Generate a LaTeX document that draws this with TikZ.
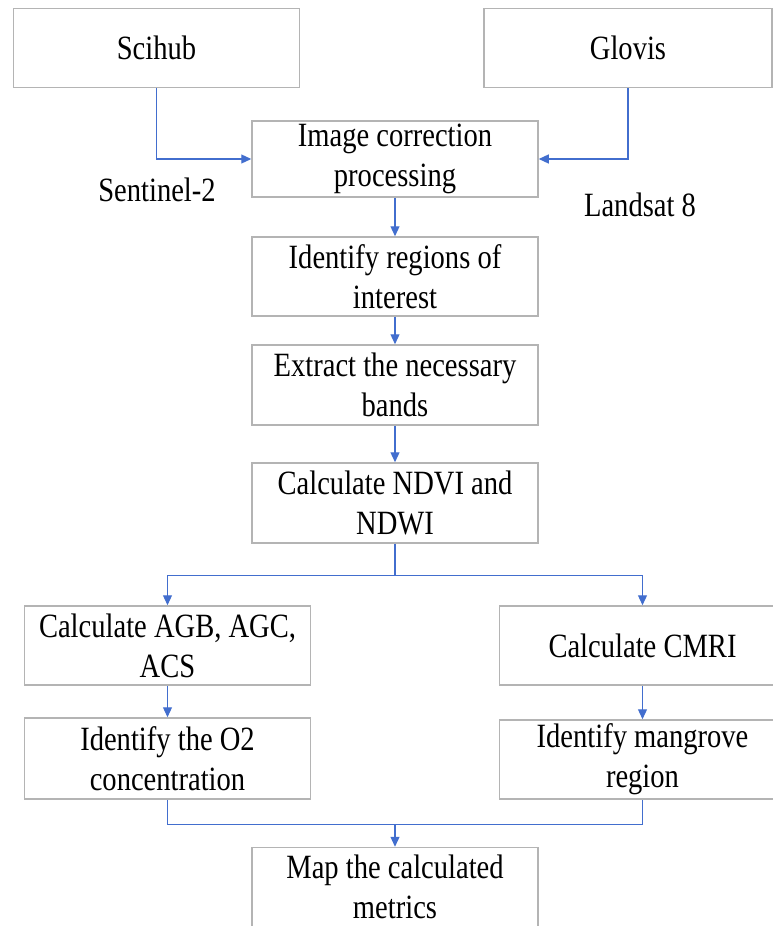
\documentclass[tikz,border=0pt]{standalone}
\usepackage{fontspec}
\setmainfont{Liberation Serif}[FakeStretch=0.84]
\usepackage{tikz}
\usetikzlibrary{arrows.meta}

\begin{document}
\begin{tikzpicture}[x=1pt,y=-1pt,
  box/.style={draw=boxGray,line width=1.5pt,minimum width=286pt,minimum height=79pt,align=center,inner sep=0pt,font=\fontsize{34}{40}\selectfont},
  flow/.style={color=flowBlue,line width=1.2pt,>={Triangle[length=10pt,width=9pt]}},
  tag/.style={font=\fontsize{34}{40}\selectfont}]
\definecolor{boxGray}{RGB}{180,180,180}
\definecolor{flowBlue}{RGB}{66,110,206}
\useasboundingbox (0,0) rectangle (773,926);
\node[box] (scihub) at (156.5,48) {Scihub};
\node[box,minimum width=288pt] (glovis) at (628,48) {Glovis};
\node[box,minimum height=76pt] (imgcorr) at (395,159) {Image correction\\processing};
\node[tag] (sentinel) at (157,190) {Sentinel-2};
\node[tag] (landsat) at (640,205) {Landsat 8};
\node[box] (roi) at (395,276.5) {Identify regions of\\interest};
\node[box,minimum height=80pt] (bands) at (395,385) {Extract the necessary\\bands};
\node[box,minimum height=80pt] (ndvi) at (395,503) {Calculate NDVI and\\NDWI};
\node[box] (agb) at (167.5,645.5) {Calculate AGB, AGC,\\ACS};
\node[box] (cmri) at (642.5,645.5) {Calculate CMRI};
\node[box,minimum height=81pt] (oxygen) at (167.5,758.5) {Identify the O2\\concentration};
\node[box] (mangrove) at (642.5,759.5) {Identify mangrove\\region};
\node[box] (metrics) at (395,887) {Map the calculated\\metrics};
\draw[flow,->] (scihub.south) |- (imgcorr.west);
\draw[flow,->] (glovis.south) |- (imgcorr.east);
\draw[flow,->] (imgcorr) -- (roi);
\draw[flow,->] (roi) -- (bands);
\draw[flow,->] (bands) -- (ndvi);
\draw[flow,->] (ndvi.south) -- ++(0,32) -| (agb.north);
\draw[flow,->] (ndvi.south) -- ++(0,32) -| (cmri.north);
\draw[flow,->] (agb) -- (oxygen);
\draw[flow,->] (cmri) -- (mangrove);
\draw[flow] (oxygen.south) -- ++(0,25) coordinate (joint) -| (mangrove.south);
\draw[flow,->] (joint -| metrics.north) -- (metrics.north);
\end{tikzpicture}
\end{document}
